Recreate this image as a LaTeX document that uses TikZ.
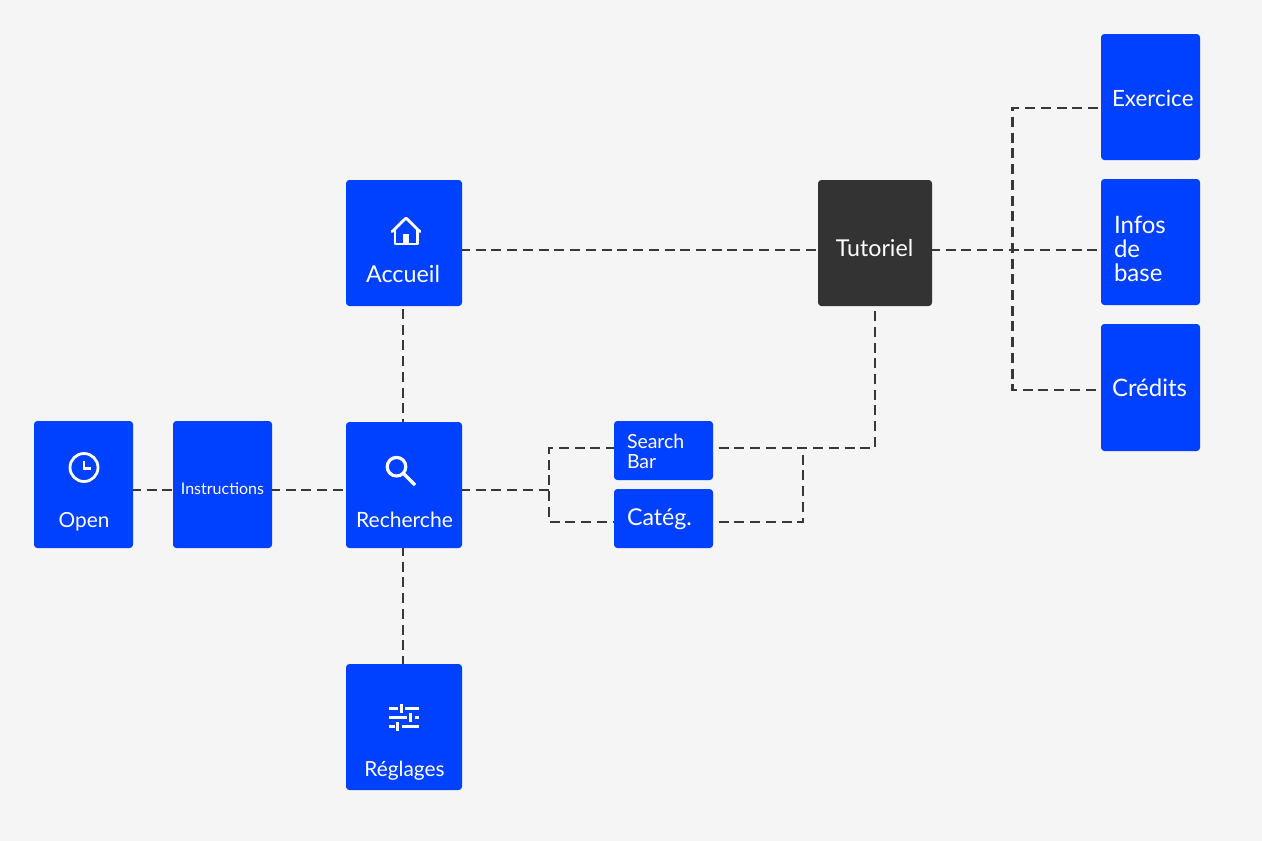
\documentclass[tikz,border=0pt]{standalone}
\usepackage{fontspec}
\setmainfont{Lato}
\definecolor{bluebox}{HTML}{0040FF}
\definecolor{darkbox}{HTML}{333333}
\definecolor{bgcol}{HTML}{F5F5F5}
\definecolor{linecol}{HTML}{383838}
\tikzset{
  x=0.75pt,y=-0.75pt,
  box/.style 2 args={anchor=north west,inner sep=0pt,outer sep=0pt,minimum width=#1*0.75pt,minimum height=#2*0.75pt,fill=bluebox,rounded corners=2.5pt},
  txt/.style={text=white,inner sep=0pt,outer sep=0pt,font=\fontsize{#1}{#1}\selectfont},
  ltxt/.style={txt=#1,anchor=west},
  conn/.style={draw=linecol,line width=1.7pt,dash pattern=on 7.5pt off 4.3pt,dash phase=1.5pt},
  connb/.style={conn,dash phase=7.5pt},
  connc/.style={conn,dash phase=9.55pt},
  icon/.style={draw=white,line width=2.1pt}
}
\begin{document}
\begin{tikzpicture}
\useasboundingbox (0,0) rectangle (1262,840);
\fill[bgcol] (-2,-2) rectangle (1264,842);

% connectors
\coordinate (busL) at (549,490);
\coordinate (busLt) at (549,448);
\coordinate (busLb) at (549,522);
\coordinate (busR) at (803,448);
\coordinate (busRb) at (803,522);
\coordinate (corner) at (875,448);
\coordinate (branch) at (1012.5,250);
\coordinate (brT) at (1012.5,108);
\coordinate (brB) at (1012.5,390);

% boxes
\node[box={99}{127}] (open) at (34,421) {};
\node[box={99}{127}] (instr) at (173,421) {};
\node[box={116}{126}] (rech) at (346,422) {};
\node[box={116}{126}] (acc) at (346,180) {};
\node[box={116}{126}] (regl) at (346,664) {};
\node[box={99}{59}] (sb) at (614,421) {};
\node[box={99}{59}] (cat) at (614,489) {};
\node[box={114}{126},fill=darkbox] (tuto) at (818,180) {};
\node[box={99}{126}] (exo) at (1101,34) {};
\node[box={99}{126}] (infos) at (1101,179) {};
\node[box={99}{127}] (cred) at (1101,324) {};

\draw[conn] ([yshift=-5.5*0.75pt]open.east) -- ([yshift=-5.5*0.75pt]instr.west);
\draw[conn] ([yshift=-5.5*0.75pt]instr.east) -- ([yshift=-5*0.75pt]rech.west);
\draw[connc] ([xshift=-1*0.75pt]acc.south) -- ([xshift=-1*0.75pt]rech.north);
\draw[conn] ([xshift=-1*0.75pt]rech.south) -- ([xshift=-1*0.75pt]regl.north);
\draw[conn] ([yshift=-5*0.75pt]rech.east) -- (busL);
\draw[conn] (sb.west |- busLt) -- (busLt) -- (busLb) -- (cat.west |- busLb);
\draw[connb] (sb.east |- busLt) -- (corner) -- (tuto.south);
\draw[connb] (cat.east |- busRb) -- (busRb) -- (busR);
\draw[conn] ([yshift=-7*0.75pt]acc.east) -- ([yshift=-7*0.75pt]tuto.west);
\draw[conn] ([yshift=-7*0.75pt]tuto.east) -- (infos.west |- branch);
\draw[connc] (exo.west |- brT) -- (brT) -- (brB) -- (cred.west |- brB);

% labels
\node[txt=17.5] (tAcc) at (403,274) {Accueil};
\node[txt=15.6] (tOpen) at (84,521.5) {Open};
\node[txt=12] (tInstr) at (222.5,488.5) {Instructions};
\node[txt=15.8] (tRech) at (404.5,519.5) {Recherche};
\node[txt=15.6] (tRegl) at (404.5,770.5) {Réglages};
\node[ltxt=14.6] (tSb1) at (627,441) {Search};
\node[ltxt=14.6] (tSb2) at (627,461.5) {Bar};
\node[ltxt=17.4] (tCat) at (627,519) {Catég.};
\node[txt=17.4] (tTuto) at (874.5,248) {Tutoriel};
\node[ltxt=16.8] (tExo) at (1112,98) {Exercice};
\node[ltxt=18] (tI1) at (1114,225) {Infos};
\node[ltxt=18] (tI2) at (1114,249) {de};
\node[ltxt=18] (tI3) at (1114,273) {base};
\node[ltxt=18] (tCred) at (1112,388) {Crédits};

% home icon
\draw[icon,line join=round,line cap=round] (392,231.7) -- (406,218) -- (420,231.7);
\draw[icon,line join=round] (395,229) -- (395,244) -- (417.3,244) -- (417.3,229);
\fill[white] (403,234.3) rectangle (409,244);
% clock icon
\draw[icon,line width=2.1pt] (84,467.5) circle[radius=14];
\draw[icon,line width=1.8pt] (84,460.5) -- (84,468.5) -- (90.5,468.5);
% search icon
\draw[icon,line width=2.4pt] (396.5,466.7) circle[radius=9.3];
\draw[icon,line width=2.6pt] (403.5,473.5) -- (415,485);
% sliders icon
\foreach \yy/\a/\b/\t/\c/\d in {708.3/389/398/401/405/419, 717.7/389/406.7/410/415/419, 726.7/389/395/397.5/401.7/419}{
  \fill[white] (\a,\yy-1.5) rectangle (\b,\yy+1.5);
  \fill[white] (\c,\yy-1.5) rectangle (\d,\yy+1.5);
  \fill[white] (\t-1.5,\yy-4.5) rectangle (\t+1.5,\yy+4.5);
}
\end{tikzpicture}
\end{document}
